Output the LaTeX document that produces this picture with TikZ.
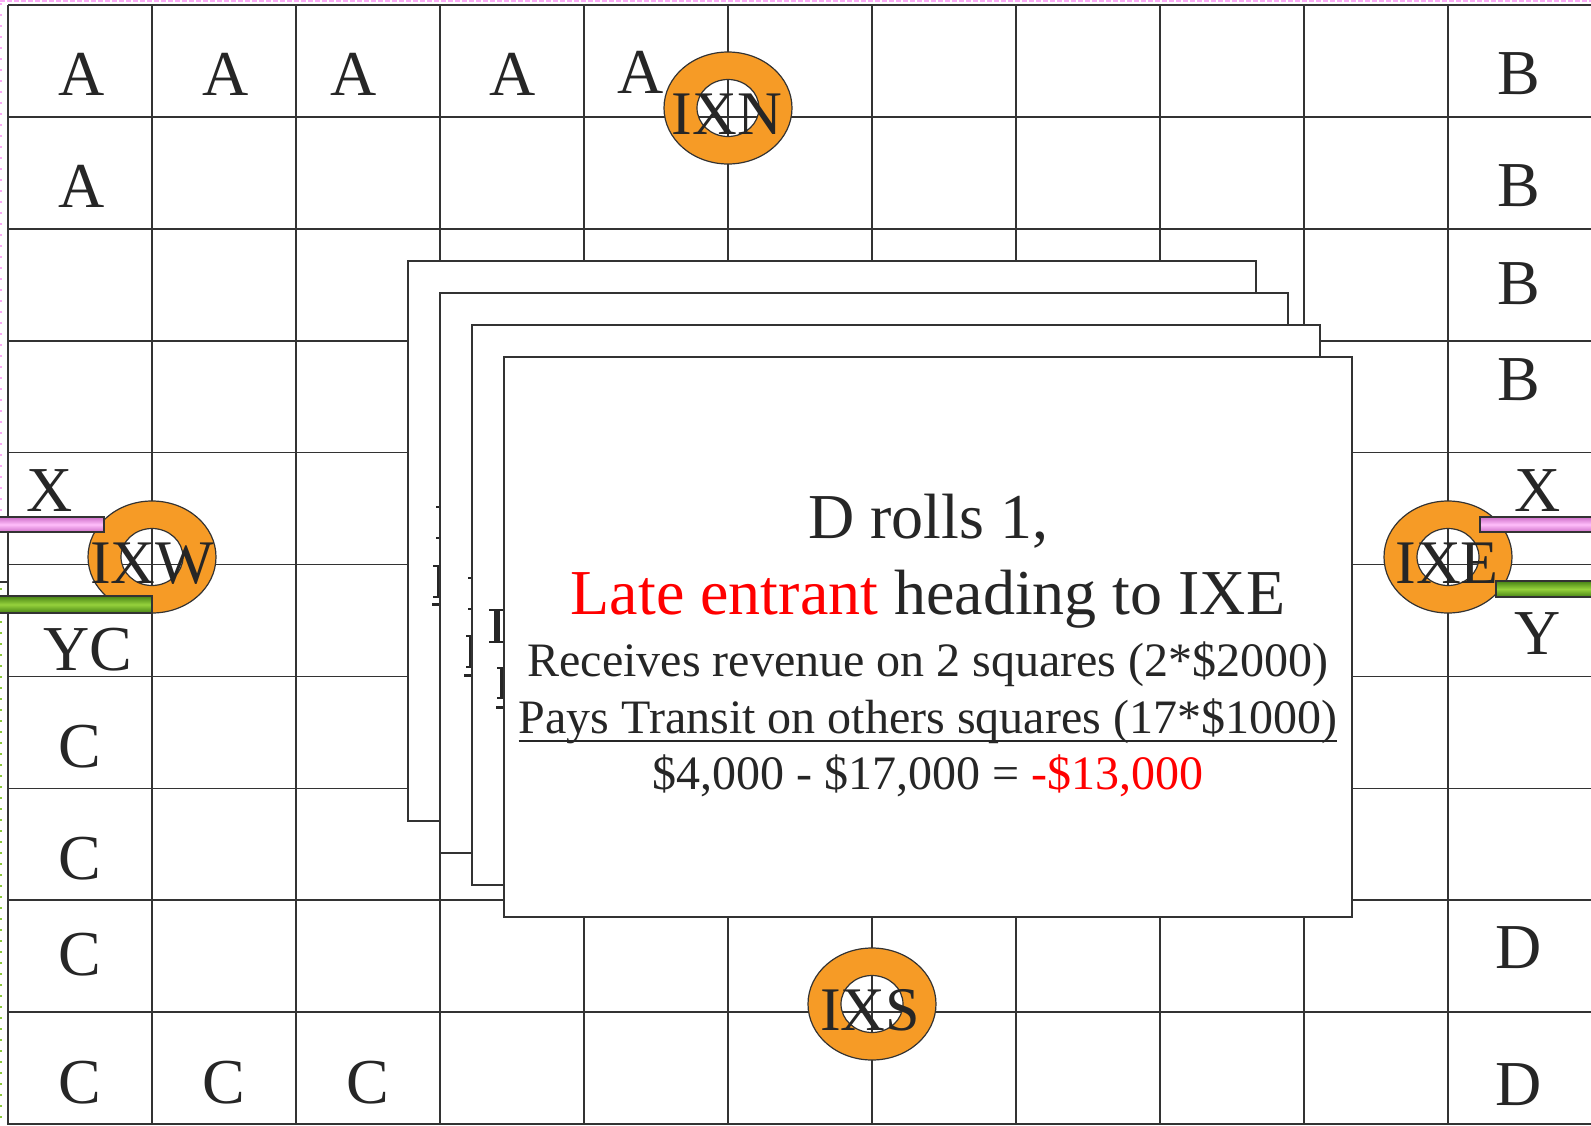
\documentclass[tikz,border=0pt]{standalone}
\usepackage{fontspec}
\setmainfont{Liberation Serif}
\definecolor{ink}{HTML}{262626}
\definecolor{gridc}{HTML}{333333}
\definecolor{ringor}{RGB}{246,155,38}
\definecolor{pinkd}{RGB}{205,110,200}
\definecolor{pinkl}{RGB}{255,190,250}
\definecolor{greend}{RGB}{70,130,20}
\definecolor{greenl}{RGB}{150,210,60}
\definecolor{pinkline}{RGB}{250,170,245}
\definecolor{greenline}{RGB}{140,200,60}
\tikzset{
  gridline/.style={draw=gridc, line width=1.6pt},
  lett/.style={font=\fontsize{64}{64}\selectfont, text=ink, anchor=base, inner sep=0pt},
  ixlab/.style={font=\fontsize{62}{62}\selectfont, text=ink, anchor=base, inner sep=0pt},
  ringfill/.style={fill=ringor, even odd rule},
  ringedge/.style={draw=gridc, line width=1.2pt},
  card/.style={draw=gridc, line width=1.6pt, fill=white},
  bigtext/.style={font=\fontsize{64}{64}\selectfont, text=ink, anchor=base, inner sep=0pt},
  smalltext/.style={font=\fontsize{48}{48}\selectfont, text=ink, anchor=base, inner sep=0pt},
  pinkbar/.style={top color=pinkd, bottom color=pinkd, middle color=pinkl, draw=gridc, line width=1.5pt},
  greenbar/.style={top color=greend, bottom color=greend, middle color=greenl, draw=gridc, line width=1.5pt},
  frag/.style={fill=ink},
}
\begin{document}
\begin{tikzpicture}[x=1pt,y=-1pt]
\useasboundingbox (0,0) rectangle (1591,1125);
\fill[white] (0,0) rectangle (1591,1125);
% dotted borders
\draw[pinkline, line width=2pt, dash pattern=on 5pt off 2pt] (0,1) -- (1591,1);
\draw[pinkline, line width=2pt, dash pattern=on 2pt off 9pt] (1,3) -- (1,517);
\draw[greenline, line width=2pt, dash pattern=on 2pt off 9pt] (1,588) -- (1,1125);
\draw[gridc, line width=1.2pt] (0,582) -- (8,582);
% grid
\foreach \i in {0,...,11} { \draw[gridline] (8+144*\i,5) -- (8+144*\i,1125); }
\foreach \j in {0,...,10} { \draw[gridline] (8,5+111.9*\j) -- (1600,5+111.9*\j); }
% rings
\foreach \n/\cx/\cy in {N/728/108, W/152/557, E/1448/557, S/872/1004} {
  \fill[ringfill] (\cx,\cy) ellipse [x radius=64pt, y radius=56pt] (\cx,\cy) ellipse [x radius=31pt, y radius=28.5pt];
  \draw[ringedge] (\cx,\cy) ellipse [x radius=64pt, y radius=56pt];
  \draw[ringedge] (\cx,\cy) ellipse [x radius=31pt, y radius=28.5pt];
}
% bars
\path[pinkbar] (-3,517) rectangle (104,532);
\path[greenbar] (-3,596) rectangle (152,613);
\path[pinkbar] (1480,517) rectangle (1600,532);
\path[greenbar] (1496,581) rectangle (1600,597);
% ring labels
\node[ixlab] (ixn) at (727,134) {IXN};
\node[ixlab] (ixw) at (152,583) {IXW};
\node[ixlab] (ixe) at (1447,583) {IXE};
\node[ixlab] (ixs) at (870,1030) {IXS};
% letters
\node[lett] (a1) at (82,95) {A};
\node[lett] (a2) at (226,95) {A};
\node[lett] (a3) at (354,95) {A};
\node[lett] (a4) at (513,95) {A};
\node[lett] (a5) at (641,93) {A};
\node[lett] (a6) at (82,207) {A};
\node[lett] (b1) at (1519,94) {B};
\node[lett] (b2) at (1519,206) {B};
\node[lett] (b3) at (1519,304) {B};
\node[lett] (b4) at (1519,400) {B};
\node[lett] (xl) at (50,511) {X};
\node[lett] (xr) at (1538,511) {X};
\node[lett] (yc) at (88,670) {YC};
\node[lett] (yr) at (1538,654) {Y};
\node[lett] (c1) at (80,767) {C};
\node[lett] (c2) at (80,879) {C};
\node[lett] (c3) at (80,975) {C};
\node[lett] (c4) at (80,1103) {C};
\node[lett] (c5) at (224,1103) {C};
\node[lett] (c6) at (368,1103) {C};
\node[lett] (d1) at (1519,968) {D};
\node[lett] (d2) at (1519,1105) {D};
% stacked cards
\path[card] (408,261) rectangle (1256,821);
\fill[frag] (436,506) rectangle (440,507.5);
\fill[frag] (436,537) rectangle (440,538.5);
\fill[frag] (433,565) rectangle (440,566.5);
\fill[frag] (436.5,565) rectangle (439,597);
\fill[frag] (433,596) rectangle (440,597.5);
\fill[frag] (432,603) rectangle (440,605.5);
\path[card] (440,293) rectangle (1288,853);
\fill[frag] (468,577) rectangle (472,578.5);
\fill[frag] (468,608) rectangle (472,609.5);
\fill[frag] (466,635) rectangle (472,636.5);
\fill[frag] (468.5,635) rectangle (471,667);
\fill[frag] (466,666) rectangle (472,667.5);
\fill[frag] (464,674) rectangle (472,676.5);
\path[card] (472,325) rectangle (1320,885);
\fill[frag] (489,609) rectangle (504,611);
\fill[frag] (494,609) rectangle (500,642);
\fill[frag] (489,641) rectangle (504,643);
\fill[frag] (497,667) rectangle (504,668.5);
\fill[frag] (500,667) rectangle (503,698);
\fill[frag] (497,697) rectangle (504,698.5);
\fill[frag] (496,706) rectangle (504,708.5);
\path[card] (504,357) rectangle (1352,917);
% front card text
\node[bigtext] (t1) at (928,538) {D rolls 1,};
\node[bigtext] (t2) at (928,614) {\textcolor{red}{Late entrant} heading to IXE};
\node[smalltext] (t3) at (928,676) {Receives revenue on 2 squares (2*\$2000)};
\node[smalltext] (t4) at (928,733) {Pays Transit on others squares (17*\$1000)};
\draw[ink, line width=2.5pt] ([yshift=-8pt]t4.base west) -- ([yshift=-8pt]t4.base east);
\node[smalltext] (t5) at (928,789) {\$4,000 - \$17,000 = \textcolor{red}{-\$13,000}};
\end{tikzpicture}
\end{document}
